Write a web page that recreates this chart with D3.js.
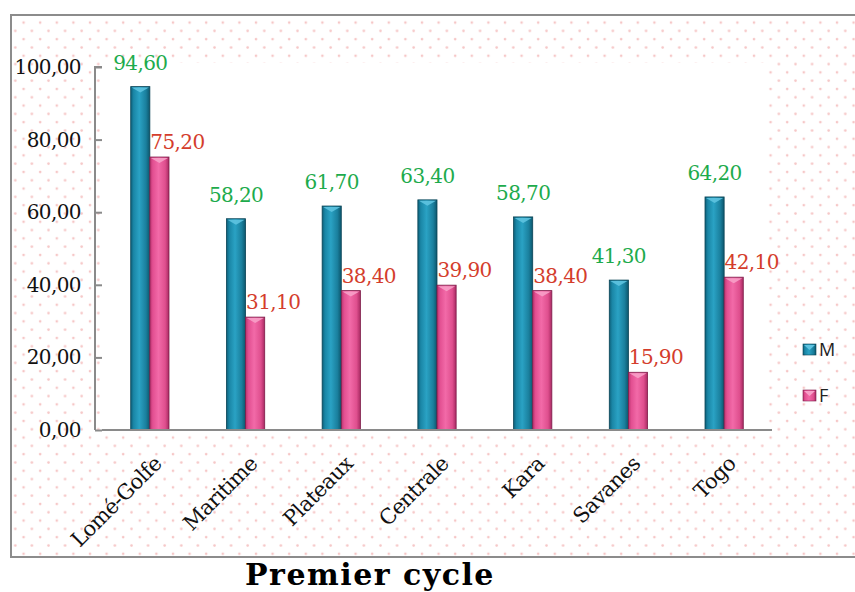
<!DOCTYPE html>
<html lang="fr">
  <head>
    <meta charset="utf-8">
    <title>Premier cycle</title>
    <style>
      body { margin: 0; background: #fff; }
      svg { display: block; }
    </style>
    <script src="https://cdn.jsdelivr.net/npm/d3@7"></script>
  </head>
  <body>
    <svg id="chart" width="855" height="592"></svg>
    <script>
// data
var regions = ["Lomé-Golfe", "Maritime", "Plateaux", "Centrale", "Kara", "Savanes", "Togo"];
var seriesNames = ["M", "F"];
var valuesM = [94.60, 58.20, 61.70, 63.40, 58.70, 41.30, 64.20];
var valuesF = [75.20, 31.10, 38.40, 39.90, 38.40, 15.90, 42.10];
var yTicks = [0, 20, 40, 60, 80, 100];
var title = "Premier cycle";

var rows = regions.map(function(r, i) { return {region: r, M: valuesM[i], F: valuesF[i]}; });

var svg = d3.select("#chart");
var defs = svg.append("defs");

// dotted pink background
var pat = defs.append("pattern").attr("id", "dots")
  .attr("patternUnits", "userSpaceOnUse").attr("width", 16.6).attr("height", 16.6)
  .attr("x", 3).attr("y", 2);
pat.append("rect").attr("width", 16.6).attr("height", 16.6).attr("fill", "#fff");
pat.append("circle").attr("cx", 4).attr("cy", 4).attr("r", 1.3).attr("fill", "#f6c6c6");
pat.append("circle").attr("cx", 12.3).attr("cy", 12.3).attr("r", 1.3).attr("fill", "#f6c6c6");

function grad(id, stops) {
  var g = defs.append("linearGradient").attr("id", id)
    .attr("x1", "0%").attr("x2", "100%").attr("y1", "0%").attr("y2", "0%");
  stops.forEach(function(s) { g.append("stop").attr("offset", s[0]).attr("stop-color", s[1]); });
}
grad("gM", [["0%", "#0d5f78"], ["15%", "#1a86a6"], ["45%", "#2aa2c4"], ["80%", "#1a7f9d"], ["100%", "#0c566c"]]);
grad("gF", [["0%", "#b8336e"], ["15%", "#e24f91"], ["45%", "#f26aa8"], ["80%", "#df4f8e"], ["100%", "#a82a62"]]);
var fills = {M: "url(#gM)", F: "url(#gF)"};
var caps = {M: "#5ec3e0", F: "#f7a0c8"};
var edges = {M: "#0a4456", F: "#7e1d4a"};
var labelColors = {M: "#1dab4c", F: "#d43d2c"};

// frame
svg.append("rect").attr("x", 11).attr("y", 15).attr("width", 860).attr("height", 542)
  .attr("fill", "url(#dots)").attr("stroke", "#8c8c8c").attr("stroke-width", 2);

var plot = {left: 102, right: 772, top: 63, bottom: 430};
svg.append("rect").attr("x", plot.left).attr("y", plot.top)
  .attr("width", 765 - plot.left).attr("height", plot.bottom - plot.top).attr("fill", "#fff");

var x0 = d3.scaleBand().domain(regions).range([plot.left, plot.right])
  .paddingInner(0.6).paddingOuter(0.3);
var x1 = d3.scaleBand().domain(seriesNames).range([0, x0.bandwidth()]);
var y = d3.scaleLinear().domain([0, 100]).range([plot.bottom, 67]);

// y axis
var yAxis = svg.append("g").attr("transform", "translate(" + plot.left + ",0)")
  .call(d3.axisLeft(y).tickValues(yTicks).tickSize(7).tickPadding(14)
    .tickFormat(function(d) { return d3.format(".2f")(d).replace(".", ","); }));
yAxis.select(".domain").attr("stroke", "#8a8a8a").attr("stroke-width", 2)
  .attr("d", "M0," + y(100) + "H-7V" + plot.bottom);
yAxis.selectAll(".tick line").attr("stroke", "#8a8a8a").attr("stroke-width", 2);
yAxis.selectAll(".tick text").attr("fill", "#111")
  .style("font-family", "'DejaVu Serif', serif").style("font-size", "20px")
  .style("letter-spacing", "-0.6px");

// bars
var groups = svg.selectAll("g.region").data(rows).enter().append("g")
  .attr("class", "region")
  .attr("transform", function(d) { return "translate(" + x0(d.region) + ",0)"; });

var bars = groups.selectAll("g.bar")
  .data(function(d) { return seriesNames.map(function(k) { return {key: k, value: d[k]}; }); })
  .enter().append("g").attr("class", "bar");

bars.append("rect")
  .attr("x", function(d) { return x1(d.key); })
  .attr("y", function(d) { return y(d.value); })
  .attr("width", x1.bandwidth())
  .attr("height", function(d) { return y(0) - y(d.value); })
  .attr("fill", function(d) { return fills[d.key]; })
  .attr("stroke", function(d) { return edges[d.key]; })
  .attr("stroke-width", 0.8);

// little pyramid cap on top of each bar
bars.append("path")
  .attr("d", function(d) {
    var bx = x1(d.key), bw = x1.bandwidth(), by = y(d.value);
    return "M" + (bx + 1) + "," + (by + 1) + "H" + (bx + bw - 1) +
      "L" + (bx + bw / 2) + "," + (by + 6) + "Z";
  })
  .attr("fill", function(d) { return caps[d.key]; })
  .attr("opacity", 0.9);

// value labels
bars.append("text")
  .attr("x", function(d) { return x1(d.key) + x1.bandwidth() / 2 + (d.key === "F" ? 18 : 0); })
  .attr("y", function(d) { return y(d.value) - (d.key === "F" ? 8 : 17); })
  .attr("text-anchor", "middle")
  .attr("fill", function(d) { return labelColors[d.key]; })
  .style("font-family", "'DejaVu Serif', serif").style("font-size", "20px")
  .style("letter-spacing", "-0.6px")
  .text(function(d) { return d3.format(".2f")(d.value).replace(".", ","); });

// x axis
svg.append("line").attr("x1", plot.left).attr("x2", plot.right)
  .attr("y1", plot.bottom).attr("y2", plot.bottom)
  .attr("stroke", "#8a8a8a").attr("stroke-width", 2);

svg.selectAll("text.cat").data(regions).enter().append("text")
  .attr("class", "cat")
  .attr("transform", function(d) {
    return "translate(" + (x0(d) + x0.bandwidth() / 2 + 13) + ",465) rotate(-45)";
  })
  .attr("text-anchor", "end")
  .attr("fill", "#111")
  .style("font-family", "'DejaVu Serif', serif").style("font-size", "21px")
  .style("letter-spacing", "-0.5px")
  .text(function(d) { return d; });

// legend
var legend = svg.selectAll("g.legend").data(seriesNames).enter().append("g")
  .attr("class", "legend")
  .attr("transform", function(d, i) { return "translate(803," + (344 + i * 46) + ")"; });
legend.append("rect").attr("width", 13).attr("height", 11)
  .attr("fill", function(d) { return fills[d]; })
  .attr("stroke", function(d) { return edges[d]; }).attr("stroke-width", 0.6);
legend.append("path").attr("d", "M1,1H12L6.5,6Z")
  .attr("fill", function(d) { return caps[d]; });
legend.append("text").attr("x", 16).attr("y", 12)
  .attr("fill", "#222")
  .style("font-family", "'Open Sans', sans-serif").style("font-size", "18px")
  .text(function(d) { return d; });

// title under the frame
svg.append("text").attr("x", 370).attr("y", 585).attr("text-anchor", "middle")
  .attr("fill", "#000")
  .style("font-family", "'DejaVu Serif', serif").style("font-weight", "bold")
  .style("font-size", "30px").style("letter-spacing", "1.5px")
  .text(title);
    </script>
  </body>
</html>
